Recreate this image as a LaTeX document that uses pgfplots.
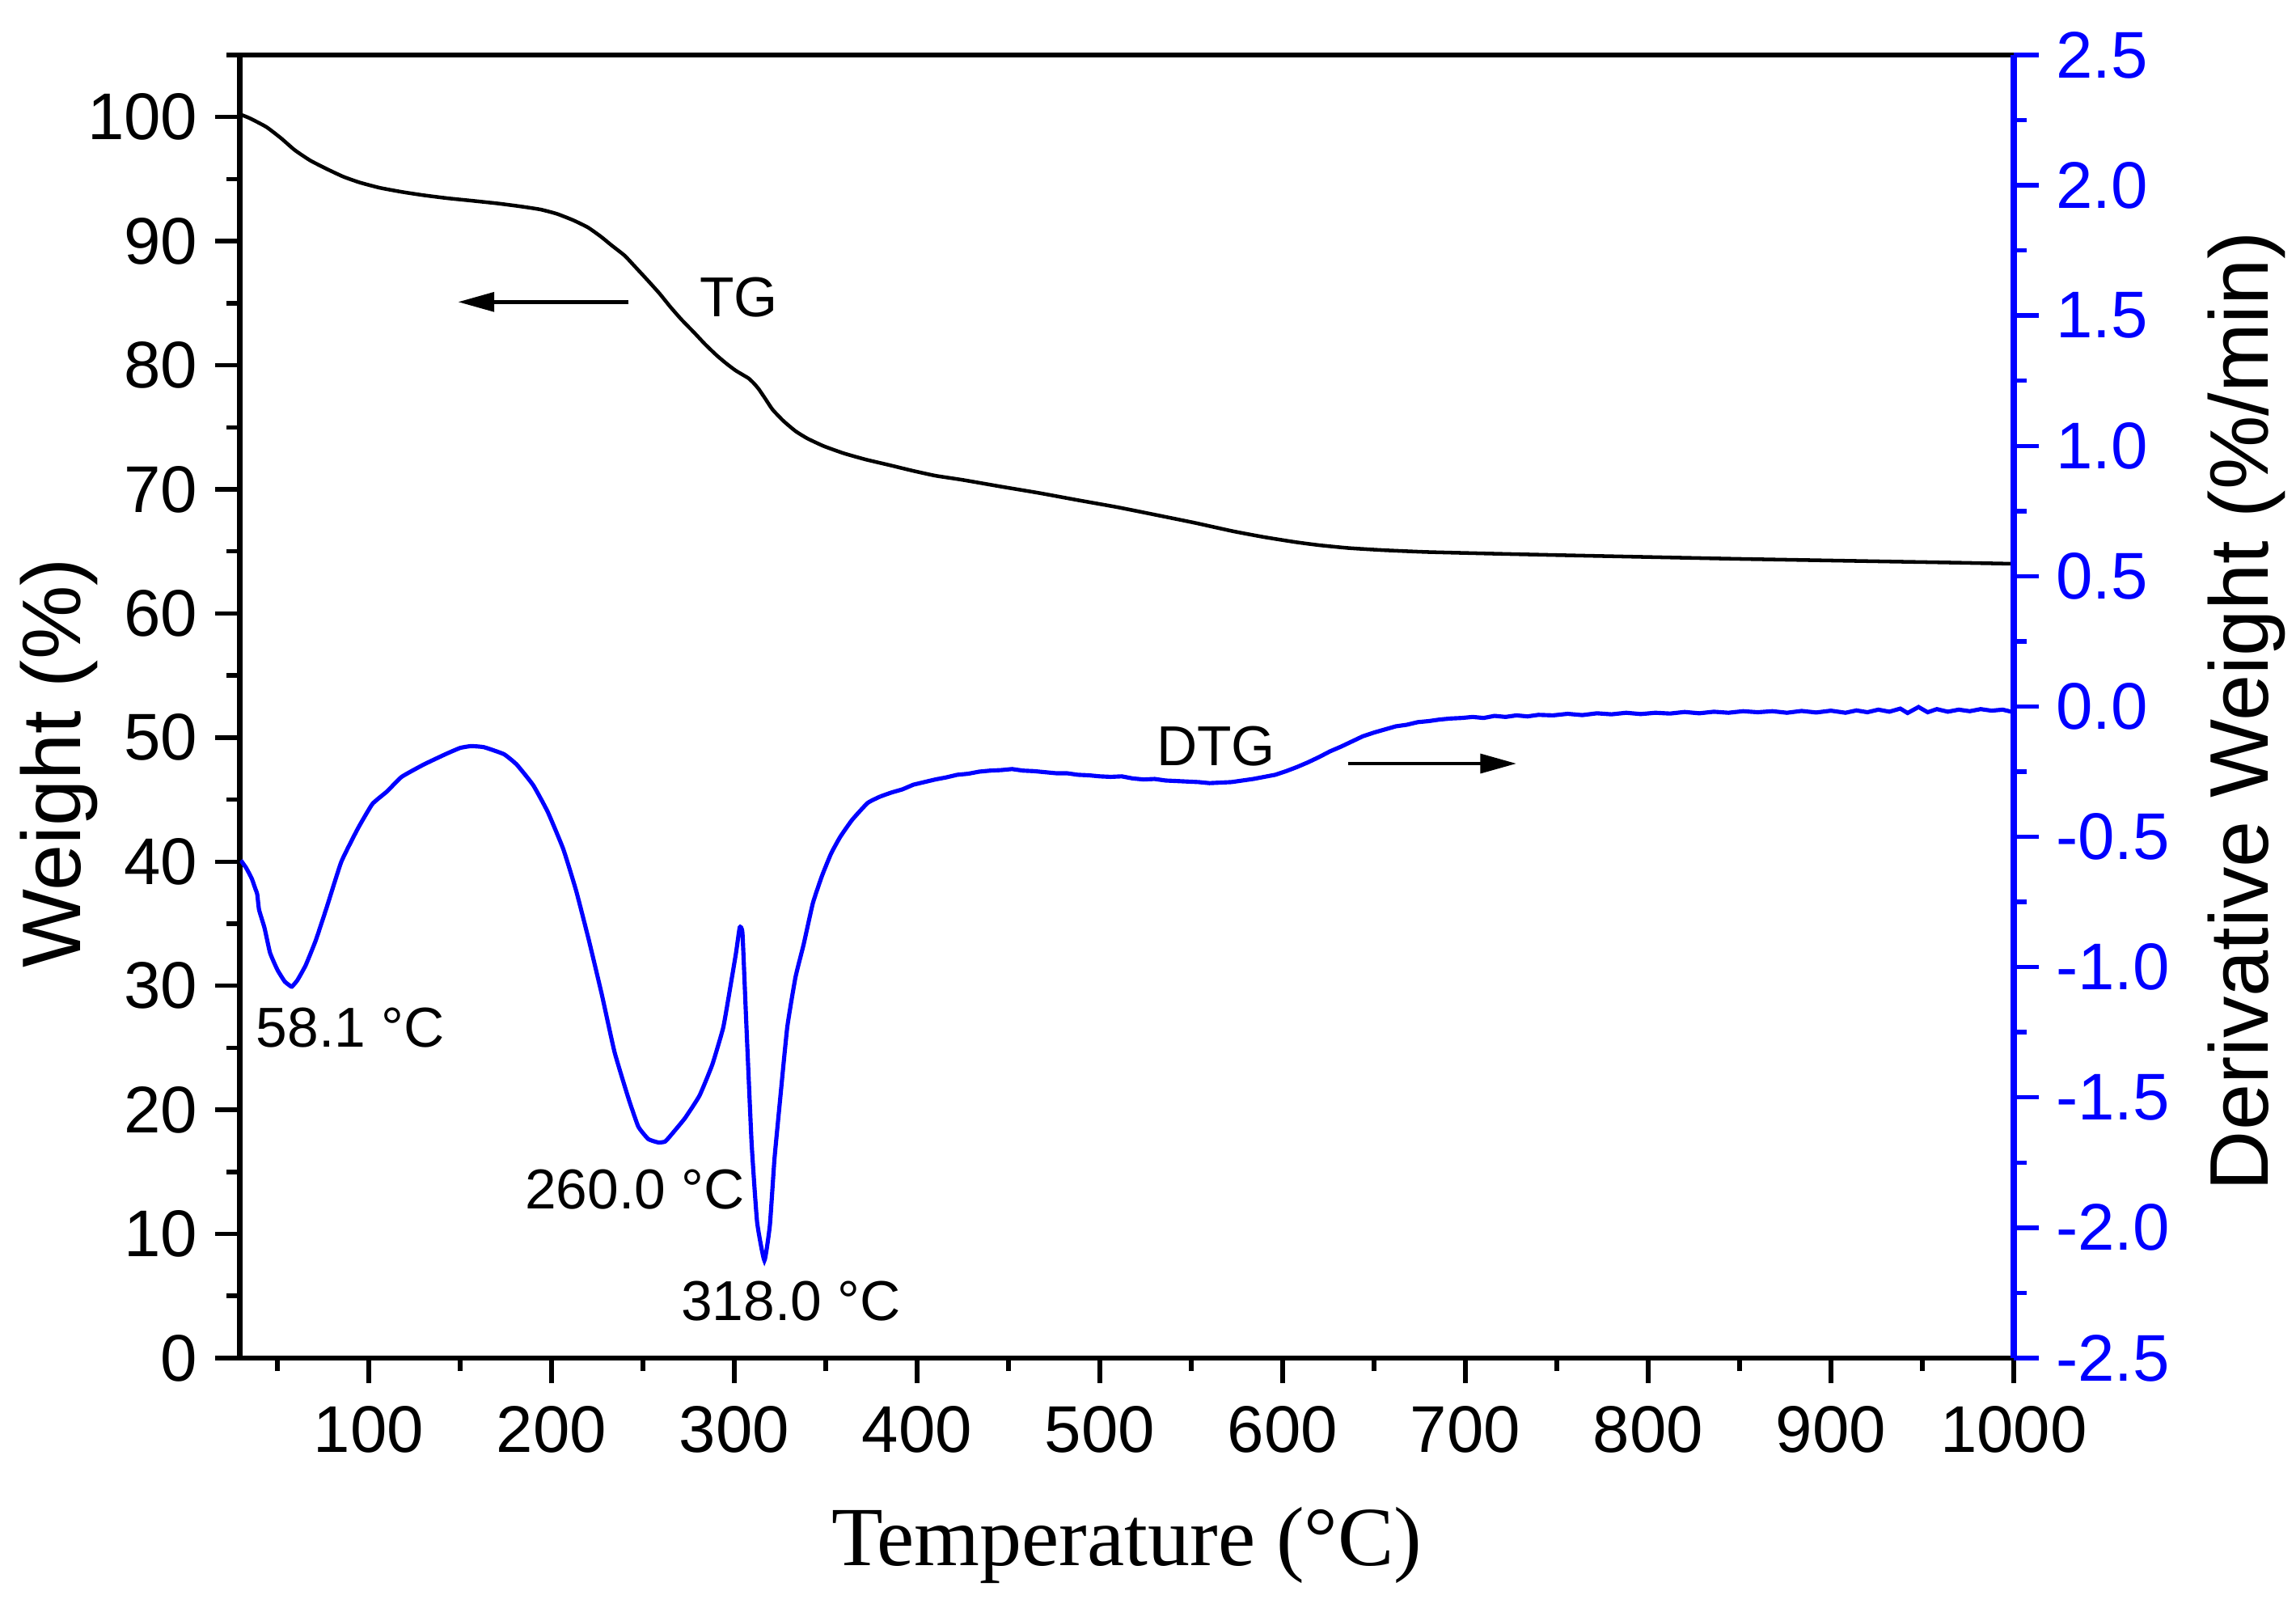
\documentclass[border=0pt]{standalone}
\usepackage{pgfplots}
\pgfplotsset{compat=1.18}
\usepackage{fontspec}
\setmainfont{Liberation Sans}
\newfontfamily\timesfont{Liberation Serif}
\usetikzlibrary{arrows.meta}
\definecolor{dtgblue}{RGB}{0,0,255}

\begin{document}
\begin{tikzpicture}
\pgfplotsset{
  common/.style={
    scale only axis, width=362.7pt, height=266.4pt,
    xmin=29.5, xmax=1000,
    tick align=outside,
    major tick length=5.1pt, minor tick length=2.7pt,
    /pgf/number format/assume math mode=true,
    /pgf/number format/1000 sep={},
    tick label style={font=\fontsize{13.5}{16}\selectfont},
    label style={font=\fontsize{17}{20}\selectfont},
  }
}
\begin{axis}[common, name=ax,
  ymin=0, ymax=105,
  xtick={100,200,...,1000},
  minor xtick={50,150,...,950},
  ytick={0,10,...,100},
  minor ytick={5,15,...,105},
  xtick pos=left, ytick pos=left,
  xticklabel style={yshift=-1.2pt},
  axis line style={black, line width=1.1pt},
  tick style={black, line width=0.9pt},
  xlabel={Temperature (°C)},
  xlabel style={font=\timesfont\fontsize{17.2}{20}\selectfont, at={(axis description cs:0.5,-0.1593)}, anchor=base},
  ylabel={Weight (\%)},
  ylabel style={at={(axis description cs:-0.0897,0.4566)}, anchor=base},
]
\addplot[black, line width=0.75pt, smooth, tension=0.3] coordinates {
(30,100.2) (35,99.9) (44,99.2) (52,98.3) (59.5,97.34) (68,96.5) (77,95.82)
(86,95.2) (95,94.73) (106,94.3) (118,93.97) (130,93.7) (143,93.46) (157,93.25)
(171,93.03) (183,92.8) (194,92.55) (203,92.2) (212,91.68) (220,91.1) (227,90.37)
(233,89.65) (240,88.84) (246,87.9) (252.4,86.88) (259,85.8) (265,84.71) (271,83.7)
(278,82.64) (284,81.7) (290.5,80.78) (296,80.1) (300.6,79.59) (305,79.2) (308,78.93)
(311,78.5) (313.5,78.06) (317,77.3) (321,76.42) (327,75.5) (333.6,74.68) (340,74.1)
(349,73.48) (360,72.9) (372,72.4) (385,71.95) (397,71.52) (410,71.1) (425,70.76)
(446,70.22) (467,69.7) (488,69.13) (510,68.55) (531,67.93) (552,67.3) (573,66.62)
(590,66.15) (607,65.75) (620,65.5) (636,65.27) (655,65.1) (679,64.95) (720,64.8)
(763,64.66) (805,64.53) (848,64.4) (890,64.29) (933,64.18) (965,64.1) (1000,64.0)
};
\node[font=\fontsize{11.5}{13}\selectfont] at (axis cs:302.5,85.5) {TG};
\node[font=\fontsize{11.5}{13}\selectfont] at (axis cs:563.6,49.3) {DTG};
\node[font=\fontsize{11.5}{13}\selectfont] at (axis cs:90,26.6) {58.1 °C};
\node[font=\fontsize{11.5}{13}\selectfont] at (axis cs:245.6,13.6) {260.0 °C};
\node[font=\fontsize{11.5}{13}\selectfont] at (axis cs:331,4.6) {318.0 °C};
\draw[black, line width=0.75pt, -{Triangle[length=7.4pt,width=3.9pt]}] (axis cs:242.3,85.1) -- (axis cs:148.9,85.1);
\draw[black, line width=0.75pt, -{Triangle[length=7.4pt,width=3.9pt]}] (axis cs:636,47.9) -- (axis cs:728,47.9);
\end{axis}

\begin{axis}[common,
  ymin=-2.5, ymax=2.5,
  axis y line*=right, axis x line=none,
  y axis line style={dtgblue, line width=1.25pt, -},
  ytick={-2.5,-2,...,2.5},
  minor ytick={-2.25,-1.75,...,2.25},
  tick style={dtgblue, line width=0.9pt},
  yticklabel style={dtgblue, /pgf/number format/.cd, fixed, fixed zerofill, precision=1},
  ylabel={Derivative Weight (\%/min)},
  ylabel style={at={(axis description cs:1.1435,0.4966)}, anchor=base, rotate=0},
]
\addplot[dtgblue, line width=0.85pt, smooth, tension=0.25] coordinates {
(30,-0.59) (33,-0.62) (36,-0.66) (38,-0.70) (39,-0.72) (40,-0.78) (43,-0.85)
(46,-0.945) (50,-1.01) (54,-1.055) (57,-1.072) (58,-1.075) (61,-1.05) (65.5,-0.993)
(71,-0.898) (77,-0.771) (85,-0.596) (94,-0.469) (102,-0.374) (110,-0.326) (118,-0.27)
(130,-0.223) (142,-0.183) (150,-0.159) (156,-0.152) (163,-0.156) (174,-0.183) (181,-0.223)
(190,-0.302) (198,-0.405) (206.5,-0.548) (213.5,-0.707) (220.5,-0.898) (227.5,-1.104)
(234.5,-1.326) (242,-1.501) (247.5,-1.612) (253,-1.66) (258.5,-1.673) (262,-1.67)
(264.5,-1.652) (273,-1.58) (281,-1.493) (288,-1.374) (294,-1.231) (298,-1.07)
(301,-0.944) (303,-0.848) (304.5,-0.87) (306.5,-1.2) (309.5,-1.676) (312.5,-1.978)
(316.5,-2.126) (319.5,-1.99) (322,-1.737) (325,-1.515) (329,-1.231) (333.5,-1.039)
(338,-0.912) (343,-0.755) (348,-0.65) (353,-0.564) (358,-0.50) (364.5,-0.435) (373,-0.37)
(380,-0.345)
};
\addplot[dtgblue, line width=0.85pt] coordinates {
(380,-0.345) (386,-0.33) (392,-0.318) (398,-0.300) (404,-0.290) (410,-0.280)
(416,-0.272) (422,-0.262) (428,-0.258) (434,-0.250) (440,-0.246) (446,-0.244)
(452,-0.240) (458,-0.246) (464,-0.248) (470,-0.252) (476,-0.256) (482,-0.256)
(488,-0.262) (494,-0.264) (500,-0.268) (506,-0.270) (512,-0.268) (518,-0.276)
(524,-0.280) (530,-0.278) (536,-0.284) (542,-0.286) (548,-0.288) (554,-0.290)
(560,-0.294) (566,-0.292) (572,-0.290) (578,-0.284) (584,-0.278) (590,-0.270)
(596,-0.262) (602,-0.248) (608,-0.232) (614,-0.214) (620,-0.194) (626,-0.172)
(632,-0.154) (638,-0.134) (644,-0.114) (650,-0.100) (656,-0.088) (662,-0.076)
(668,-0.070) (674,-0.060) (680,-0.056) (686,-0.050) (692,-0.046) (698,-0.044)
(704,-0.040) (710,-0.044) (716,-0.036) (722,-0.040) (728,-0.034) (734,-0.038)
(740,-0.032) (748,-0.034) (756,-0.028) (764,-0.033) (772,-0.026) (780,-0.030)
(788,-0.024) (796,-0.029) (804,-0.024) (812,-0.027) (820,-0.021) (828,-0.026)
(836,-0.020) (844,-0.024) (852,-0.018) (860,-0.022) (868,-0.018) (876,-0.024)
(884,-0.017) (892,-0.023) (900,-0.016) (908,-0.024) (914,-0.015) (920,-0.022)
(926,-0.012) (932,-0.020) (938,-0.008) (942,-0.025) (948,-0.002) (953,-0.022)
(958,-0.010) (964,-0.020) (970,-0.012) (976,-0.018) (982,-0.010) (988,-0.016)
(994,-0.012) (1000,-0.022)
};
\end{axis}
\pgfresetboundingbox
\path[use as bounding box] ([shift={(-49.05pt,-50.97pt)}]ax.south west) rectangle ([shift={(57.75pt,11.25pt)}]ax.north east);
\end{tikzpicture}
\end{document}
